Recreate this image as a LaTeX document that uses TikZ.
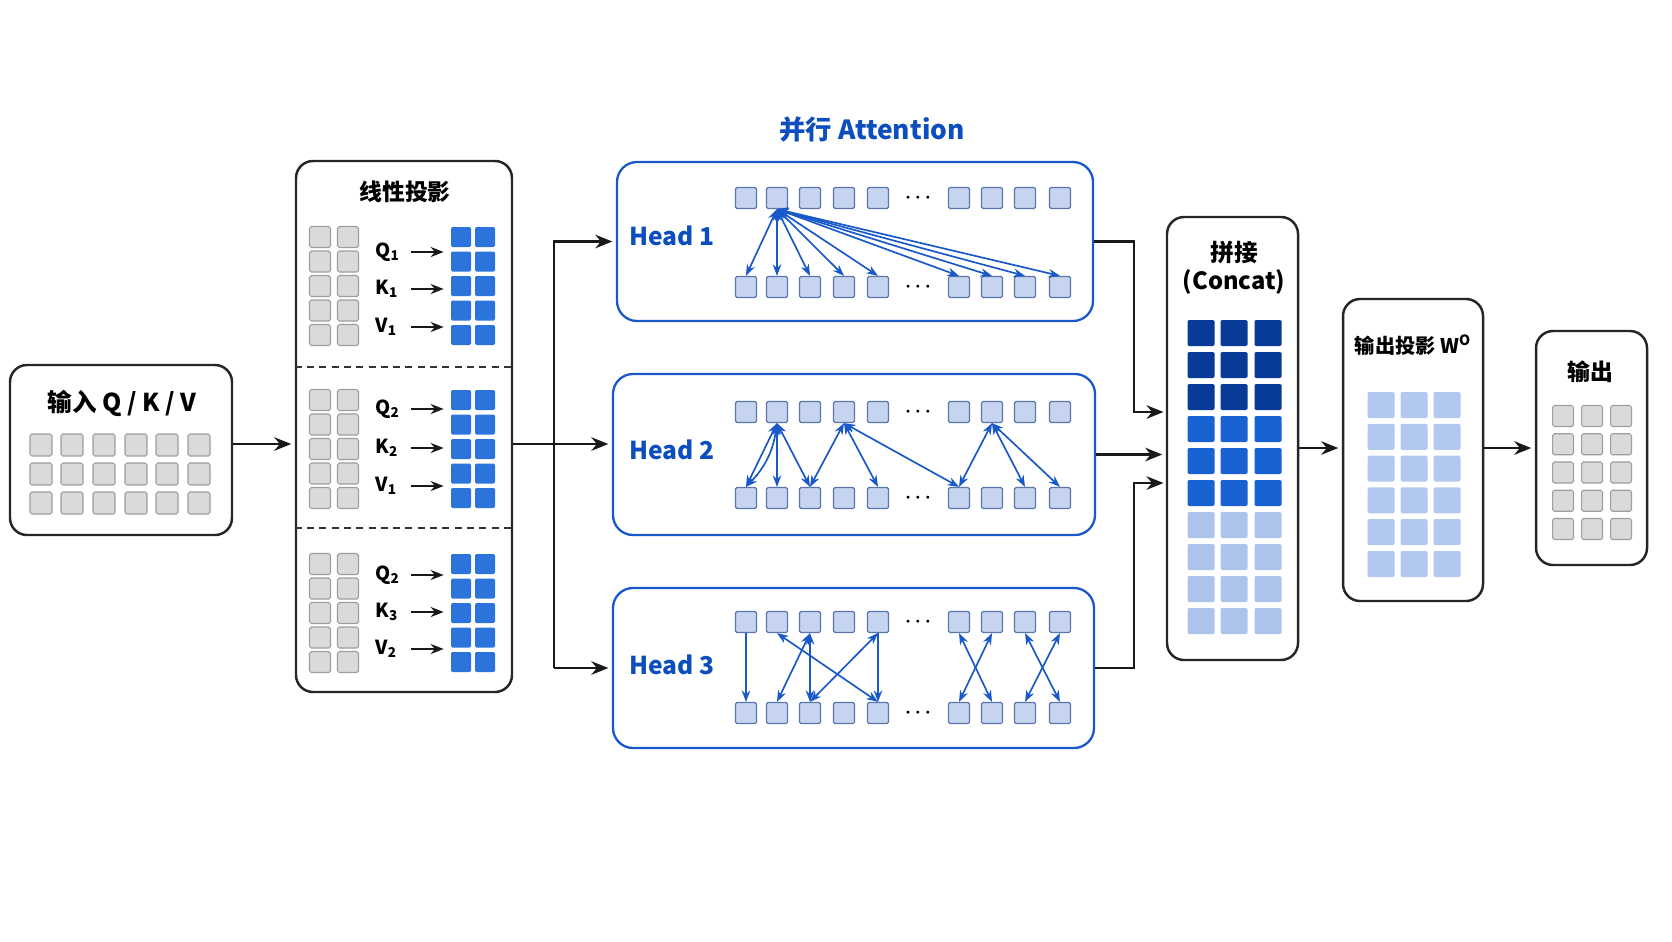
\documentclass[tikz,border=0pt]{standalone}
\usepackage{fontspec}
\setmainfont{Noto Sans CJK SC}
\usetikzlibrary{arrows.meta,fit}

\newcommand{\fsz}[1]{\fontsize{#1}{#1}\selectfont\bfseries}

\begin{document}
\begin{tikzpicture}[x=0.02cm, y=-0.02cm, font=\fsz{12},
  panel/.style={draw=black!85, line width=1.4pt, rounded corners=0.34cm, fill=white, inner sep=0pt},
  headpanel/.style={draw=headblue, line width=1.3pt, rounded corners=0.4cm, fill=white, inner sep=0pt},
  graysq/.style={draw=grayline, fill=grayfill, line width=0.6pt, rounded corners=1pt, inner sep=0pt, minimum size=#1},
  bluesq/.style={fill=projblue, rounded corners=0.8pt, inner sep=0pt, minimum size=0.4cm},
  tok/.style={draw=tokline, fill=tokfill, line width=0.7pt, rounded corners=0.8pt, inner sep=0pt, minimum size=0.42cm},
  cell/.style={rounded corners=0.8pt, inner sep=0pt, minimum width=0.54cm, minimum height=0.52cm},
  lab/.style={anchor=west, text width=0.6cm, inner sep=0pt, align=left, font=\fsz{11}},
  headlab/.style={text=titleblue, font=\fsz{14}},
  dots/.style={font=\fsz{11}\boldmath},
  flow/.style={-{Stealth[length=0.34cm,width=0.27cm]}, line width=1.4pt, draw=black!90, shorten >=2pt},
  flowsm/.style={-{Stealth[length=0.26cm,width=0.2cm]}, line width=1.2pt, draw=black!90, shorten <=0.1cm, shorten >=0.14cm},
  att/.style={{Stealth[length=0.23cm,width=0.17cm]}-{Stealth[length=0.23cm,width=0.17cm]}, draw=headblue, line width=0.95pt},
  attone/.style={-{Stealth[length=0.23cm,width=0.17cm]}, draw=headblue, line width=0.95pt},
  sep/.style={dash pattern=on 4pt off 3pt, line width=1pt, draw=black!80}]

\definecolor{headblue}{RGB}{24,88,200}
\definecolor{titleblue}{RGB}{12,78,190}
\definecolor{tokfill}{RGB}{198,212,240}
\definecolor{tokline}{RGB}{90,118,174}
\definecolor{grayfill}{RGB}{218,218,218}
\definecolor{grayline}{RGB}{158,158,158}
\definecolor{projblue}{RGB}{44,116,220}
\definecolor{catdark}{RGB}{8,58,152}
\definecolor{catmid}{RGB}{24,98,210}
\definecolor{catlight}{RGB}{172,196,236}
\definecolor{outlight}{RGB}{178,200,238}

\def\hx{746,777,810,844,878,959,992,1025,1060} % token columns in a head

\fill[white] (0,0) rectangle (1672,941);
\useasboundingbox (0,0) rectangle (1672,941);

% ---------------- input ----------------
\node[panel, fit={(10,365) (232,535)}] (inbox) {};
\node[font=\fsz{14}] (intitle) at (122,403) {输入 Q / K / V};
\foreach \x [count=\i] in {41,72,104,136,167,199}
  \foreach \y [count=\j] in {445,474,503}
    \node[graysq=0.44cm] (in-\j-\i) at (\x,\y) {};

% ---------------- linear projection ----------------
\node[panel, fit={(296,161) (512,692)}] (proj) {};
\node[font=\fsz{13}] (projtitle) at (405,192) {线性投影};
\draw[sep] (proj.west |- 0,367) -- (proj.east |- 0,367);
\draw[sep] (proj.west |- 0,528) -- (proj.east |- 0,528);

\foreach \s/\yy/\qa/\ka/\va/\yq/\yk/\yv in {1/237/1/1/1/252/289/327,
                                           2/400/2/2/1/409/448/486,
                                           3/564/2/3/2/575/612/649} {
  \foreach \r in {0,...,4} {
    \node[graysq=0.42cm] (g\s-\r-a) at (320,{\yy+24.5*\r}) {};
    \node[graysq=0.42cm] (g\s-\r-b) at (348,{\yy+24.5*\r}) {};
    \node[bluesq] (b\s-\r-a) at (461,{\yy+24.5*\r}) {};
    \node[bluesq] (b\s-\r-b) at (485,{\yy+24.5*\r}) {};
  }
  \node[lab] (q\s) at (375,\yq) {Q\textsubscript{\qa}};
  \node[lab] (k\s) at (375,\yk) {K\textsubscript{\ka}};
  \node[lab] (v\s) at (375,\yv) {V\textsubscript{\va}};
  \draw[flowsm] (q\s.east) -- (q\s.east -| b\s-0-a.west);
  \draw[flowsm] (k\s.east) -- (k\s.east -| b\s-0-a.west);
  \draw[flowsm] (v\s.east) -- (v\s.east -| b\s-0-a.west);
}

% ---------------- attention heads ----------------
\node[text=titleblue, font=\fsz{15}] (partitle) at (872,130) {并行 Attention};
\node[headpanel, fit={(617,162) (1093,321)}] (head1) {};
\node[headpanel, fit={(613,374) (1095,535)}] (head2) {};
\node[headpanel, fit={(613,588) (1094,748)}] (head3) {};

\foreach \h/\yt/\yb/\ly in {1/198/287/236, 2/412/498/450, 3/622/713/665} {
  \node[headlab] (hl\h) at (672,\ly) {Head \h};
  \foreach \x [count=\i] in \hx {
    \node[tok] (h\h-t\i) at (\x,\yt) {};
    \node[tok] (h\h-b\i) at (\x,\yb) {};
  }
  \node[dots] (h\h-td) at (918,\yt) {$\cdots$};
  \node[dots] (h\h-bd) at (918,\yb) {$\cdots$};
}

% head 1: one query to all keys
\foreach \j in {1,...,9}
  \draw[att] (h1-t2.south) -- (h1-b\j.north);

% head 2: local windows
\foreach \a/\b in {2/1,2/2,2/3,4/3,4/5,4/6,7/6,7/8,7/9}
  \draw[att] (h2-t\a.south) -- (h2-b\b.north);
\draw[att] (h2-t2.south) to[bend left=18] (h2-b1.north);

% head 3: crossed pattern
\draw[attone] (h3-t1.south) -- (h3-b1.north);
\draw[attone] (h3-t5.south) -- (h3-b5.north);
\foreach \a/\b in {2/5,3/2,3/3,5/3,6/7,7/6,8/9,9/8}
  \draw[att] (h3-t\a.south) -- (h3-b\b.north);

% ---------------- concat ----------------
\node[panel, fit={(1167,217) (1298,660)}] (concat) {};
\node[font=\fsz{13.5}] (cattitle) at (1234,252) {拼接};
\node[font=\fsz{13.5}] (catsub) at (1234,282) {(Concat)};
\foreach \r/\col in {1/catdark,2/catdark,3/catdark,4/catmid,5/catmid,6/catmid,
                     7/catlight,8/catlight,9/catlight,10/catlight}
  \foreach \x [count=\i] in {1201,1234,1268}
    \node[cell, fill=\col] (cat-\r-\i) at (\x,{333+32*(\r-1)}) {};

% ---------------- output projection ----------------
\node[panel, fit={(1343,299) (1483,601)}] (outproj) {};
\node[font=\fsz{11.5}] (wotitle) at (1413,345) {输出投影 W\textsuperscript{O}};
\foreach \r in {0,...,5}
  \foreach \x [count=\i] in {1381,1414,1447}
    \node[cell, fill=outlight] (wo-\r-\i) at (\x,{405+31.8*\r}) {};

% ---------------- output ----------------
\node[panel, fit={(1536,331) (1647,565)}] (outbox) {};
\node[font=\fsz{13}] (outtitle) at (1590,372) {输出};
\foreach \r in {0,...,4}
  \foreach \x [count=\i] in {1563,1592,1621}
    \node[graysq=0.42cm] (out-\r-\i) at (\x,{416+28.25*\r}) {};

% ---------------- connectors ----------------
\coordinate (bus) at (554,444);
\coordinate (jn) at (1134,448);
\coordinate (cin1) at (1167,412);
\coordinate (cin3) at (1167,483);

\draw[flow] (inbox.east |- bus) -- (proj.west |- bus);
\draw[flow] (proj.east |- bus) -- (head2.west |- bus);
\draw[flow] (bus |- head3.west) |- (head1.west);
\draw[flow] (bus |- head3.west) -- (head3.west);

\draw[flow] (head1.east) -| (jn |- cin1) -- (cin1);
\draw[flow] (head2.east) -- (head2.east -| concat.west);
\draw[flow] (head3.east) -| (jn |- cin3) -- (cin3);

\draw[flow] (concat.east |- jn) -- (outproj.west |- jn);
\draw[flow] (outproj.east |- jn) -- (outbox.west |- jn);

\end{tikzpicture}
\end{document}
